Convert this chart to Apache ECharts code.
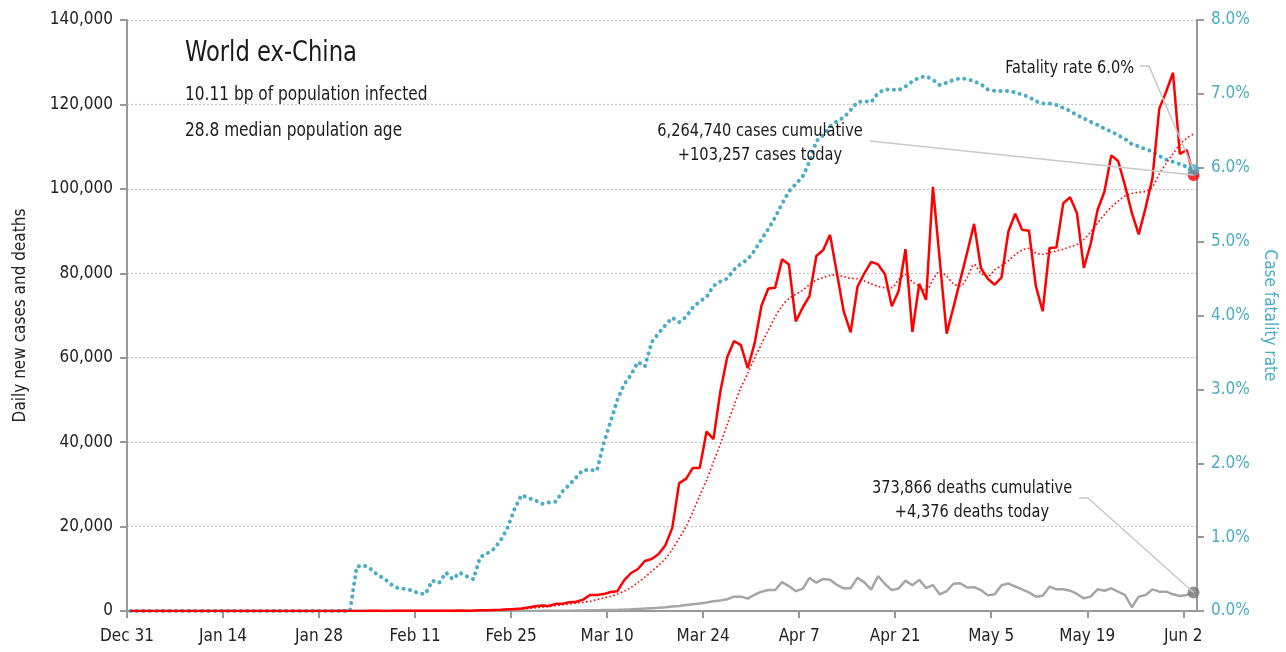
<!DOCTYPE html>
<html>
<head>
<meta charset="utf-8">
<script src="https://cdn.jsdelivr.net/npm/echarts@6/dist/echarts.min.js"></script>
<style>
html, body { margin: 0; padding: 0; background: #fff; }
#chart { width: 1286px; height: 652px; }
</style>
</head>
<body>
<div id="chart"></div>
<script>
// day index 0 = Dec 31, one value per day up to Jun 3
var tickLabels = ['Dec 31', 'Jan 14', 'Jan 28', 'Feb 11', 'Feb 25', 'Mar 10', 'Mar 24',
  'Apr 7', 'Apr 21', 'May 5', 'May 19', 'Jun 2'];

var dailyCases = [
  0, 0, 0, 0, 0, 0, 0, 0, 0, 0,
  0, 0, 0, 1, 0, 0, 1, 0, 0, 1,
  2, 3, 5, 4, 7, 10, 12, 15, 20, 18,
  25, 30, 20, 25, 15, 30, 40, 25, 35, 50,
  30, 45, 40, 60, 50, 45, 80, 70, 90, 70,
  100, 150, 200, 250, 300, 400, 450, 600, 850, 1100,
  1300, 1200, 1700, 1700, 2100, 2200, 2700, 3800, 3800, 4000,
  4500, 4700, 7300, 9000, 9950, 11850, 12300, 13500, 15600, 19700,
  30300, 31300, 33900, 33900, 42500, 40700, 51950, 60100, 63960, 63000,
  57500, 63400, 72300, 76400, 76600, 83300, 82100, 68600, 71850, 74600,
  84100, 85500, 89100, 80000, 70900, 66000, 76800, 80000, 82700, 82100,
  79800, 72200, 75800, 85700, 66100, 77500, 73700, 100500, 83000, 65700,
  72000, 78500, 85000, 91700, 81200, 78700, 77300, 79000, 89900, 94100,
  90300, 90100, 77000, 71000, 86000, 86100, 96600, 98000, 94200, 81300,
  87000, 95000, 99300, 107900, 106600, 100800, 94300, 89200, 95500, 102500,
  119000, 123000, 127500, 108300, 109200, 103257
];

var casesAvg = [
  0, 0, 0, 0, 0, 0, 0, 0, 0, 0,
  0, 0, 0, 0, 0, 0, 1, 1, 1, 1,
  2, 3, 4, 5, 6, 8, 10, 12, 14, 16,
  19, 22, 23, 24, 25, 26, 28, 30, 32, 34,
  36, 40, 42, 46, 50, 53, 56, 60, 65, 70,
  80, 100, 130, 170, 220, 280, 350, 460, 600, 750,
  900, 1050, 1250, 1450, 1650, 1850, 2050, 2300, 2700, 3100,
  3500, 4000, 4700, 5600, 6800, 8000, 9400, 10800, 12400, 14600,
  17200, 20000, 23500, 27300, 31000, 35300, 39500, 44200, 48700, 52900,
  56300, 59900, 63200, 66500, 69700, 72300, 74000, 75000, 76000, 77300,
  78400, 79000, 79500, 79600, 79200, 78800, 78700, 78200, 77500, 76900,
  76600, 76600, 78500, 79700, 78000, 77000, 75800, 78500, 80400, 79300,
  77500, 77000, 79000, 82100, 80000, 79200, 80800, 81800, 83000, 84400,
  85500, 85900, 84800, 84500, 84900, 85300, 85700, 86300, 86800, 88000,
  89800, 91900, 93900, 95700, 97100, 98300, 98900, 99200, 99400, 100500,
  103500, 106000, 108300, 110500, 112000, 113000
];

var dailyDeaths = [
  0, 0, 0, 0, 0, 0, 0, 0, 0, 0,
  0, 0, 0, 0, 0, 0, 0, 0, 0, 0,
  0, 0, 0, 0, 0, 0, 0, 0, 0, 0,
  0, 0, 0, 1, 0, 0, 1, 0, 0, 0,
  0, 0, 0, 1, 0, 1, 1, 0, 1, 2,
  3, 4, 5, 6, 8, 10, 12, 15, 20, 25,
  30, 40, 50, 60, 80, 100, 120, 150, 180, 220,
  260, 300, 350, 420, 500, 580, 680, 780, 900, 1050,
  1200, 1400, 1600, 1800, 2000, 2300, 2500, 2780, 3400, 3400,
  2950, 3850, 4570, 4970, 4970, 6850, 5900, 4700, 5230, 7850,
  6700, 7600, 7400, 6160, 5380, 5380, 7850, 6790, 5050, 8300,
  6400, 4950, 5330, 7200, 6100, 7370, 5450, 6150, 3920, 4700,
  6450, 6550, 5570, 5650, 4950, 3700, 3970, 6080, 6500, 5800,
  5100, 4400, 3400, 3630, 5760, 5130, 5130, 4810, 4030, 3000,
  3400, 5130, 4810, 5370, 4580, 3790, 900, 3400, 3790, 5130,
  4580, 4580, 3950, 3550, 3790, 4376
];

// case fatality rate, percent
var fatalityRate = [
  0, 0, 0, 0, 0, 0, 0, 0, 0, 0,
  0, 0, 0, 0, 0, 0, 0, 0, 0, 0,
  0, 0, 0, 0, 0, 0, 0, 0, 0, 0,
  0, 0, 0, 0.60, 0.62, 0.57, 0.49, 0.44, 0.36, 0.31,
  0.30, 0.28, 0.24, 0.23, 0.41, 0.38, 0.52, 0.43, 0.52, 0.47,
  0.43, 0.73, 0.78, 0.84, 0.96, 1.13, 1.38, 1.57, 1.53, 1.50,
  1.45, 1.47, 1.48, 1.62, 1.71, 1.81, 1.91, 1.91, 1.90, 2.27,
  2.56, 2.86, 3.07, 3.20, 3.37, 3.31, 3.64, 3.76, 3.87, 3.97,
  3.91, 3.98, 4.11, 4.19, 4.25, 4.40, 4.46, 4.50, 4.62, 4.70,
  4.76, 4.88, 5.03, 5.17, 5.33, 5.51, 5.68, 5.78, 5.88, 6.08,
  6.36, 6.44, 6.56, 6.63, 6.68, 6.78, 6.89, 6.90, 6.89, 7.01,
  7.06, 7.06, 7.05, 7.10, 7.17, 7.22, 7.24, 7.19, 7.12, 7.15,
  7.19, 7.21, 7.20, 7.17, 7.13, 7.06, 7.04, 7.04, 7.04, 7.02,
  6.99, 6.96, 6.90, 6.87, 6.87, 6.85, 6.81, 6.77, 6.71, 6.67,
  6.62, 6.58, 6.53, 6.49, 6.44, 6.39, 6.32, 6.29, 6.25, 6.22,
  6.16, 6.11, 6.08, 6.05, 6.01, 5.97
];

var titleText = 'World ex-China';
var subLines = ['10.11 bp of population infected', '28.8 median population age'];
var casesNote = ['6,264,740 cases cumulative', '+103,257 cases today'];
var deathsNote = ['373,866 deaths cumulative', '+4,376 deaths today'];
var rateNote = 'Fatality rate 6.0%';

var FONT = "'Liberation Sans Narrow', 'DejaVu Sans Condensed', 'Roboto', sans-serif";
var RED = '#ff0000', BLUE = '#4bacc6', GREY = '#a6a6a6', AXIS = '#999999';

// points sit in the middle of each day
function toPoints(arr) {
  var out = [];
  for (var i = 0; i < arr.length; i++) out.push([i + 0.5, arr[i]]);
  return out;
}
var last = dailyCases.length - 1;
var lastX = last + 0.5;
var tickValues = tickLabels.map(function (t, i) { return i * 14; });

var chart = echarts.init(document.getElementById('chart'));
var option = {
  animation: false,
  textStyle: { fontFamily: FONT },
  grid: { left: 127, right: 89, top: 20, bottom: 41 },
  xAxis: {
    type: 'value',
    min: 0,
    max: 156,
    interval: 14,
    axisLine: { lineStyle: { color: AXIS, width: 2 } },
    axisTick: { show: true, length: 7, lineStyle: { color: AXIS, width: 2 }, customValues: tickValues },
    axisLabel: {
      customValues: tickValues,
      margin: 17,
      color: '#222',
      fontSize: 17,
      fontFamily: FONT,
      formatter: function (v) { return tickLabels[Math.round(v / 14)] || ''; }
    },
    splitLine: { show: false }
  },
  yAxis: [{
    type: 'value',
    min: 0,
    max: 140000,
    interval: 20000,
    name: 'Daily new cases and deaths',
    nameLocation: 'middle',
    nameRotate: 90,
    nameGap: 98,
    nameTextStyle: { color: '#222', fontSize: 17, fontFamily: FONT },
    axisLine: { show: true, lineStyle: { color: AXIS, width: 2 } },
    axisTick: { show: true, length: 7, lineStyle: { color: AXIS, width: 2 } },
    axisLabel: {
      margin: 14, color: '#222', fontSize: 17, fontFamily: FONT,
      formatter: function (v) { return v.toLocaleString('en-US'); }
    },
    splitLine: { show: true, lineStyle: { color: '#c4c4c4', width: 1.2, type: [2, 2] } }
  }, {
    type: 'value',
    min: 0,
    max: 8,
    interval: 1,
    position: 'right',
    name: 'Case fatality rate',
    nameLocation: 'middle',
    nameRotate: -90,
    nameGap: 64,
    nameTextStyle: { color: BLUE, fontSize: 17, fontFamily: FONT },
    axisLine: { show: true, lineStyle: { color: AXIS, width: 2 } },
    axisTick: { show: true, length: 7, lineStyle: { color: AXIS, width: 2 } },
    axisLabel: {
      margin: 14, color: BLUE, fontSize: 17, fontFamily: FONT,
      formatter: function (v) { return v.toFixed(1) + '%'; }
    },
    splitLine: { show: false }
  }],
  series: [{
    name: 'deaths',
    type: 'line',
    data: toPoints(dailyDeaths),
    showSymbol: false,
    lineStyle: { color: GREY, width: 2.5 },
    z: 2
  }, {
    name: 'fatality rate',
    type: 'line',
    yAxisIndex: 1,
    data: toPoints(fatalityRate),
    showSymbol: false,
    lineStyle: { color: BLUE, width: 4, type: [0.1, 6.4], cap: 'round' },
    z: 3
  }, {
    name: 'cases average',
    type: 'line',
    data: toPoints(casesAvg),
    showSymbol: false,
    smooth: 0.3,
    lineStyle: { color: RED, width: 1.6, type: [1.6, 2.4] },
    z: 4
  }, {
    name: 'cases',
    type: 'line',
    data: toPoints(dailyCases),
    showSymbol: false,
    lineStyle: { color: RED, width: 2.5 },
    z: 5
  }, {
    name: 'end cases',
    type: 'scatter',
    data: [[lastX, dailyCases[last]]],
    symbolSize: 12,
    itemStyle: { color: RED },
    z: 6
  }, {
    name: 'end deaths',
    type: 'scatter',
    data: [[lastX, dailyDeaths[last]]],
    symbolSize: 12,
    itemStyle: { color: '#777777' },
    z: 6
  }, {
    name: 'end rate',
    type: 'scatter',
    yAxisIndex: 1,
    data: [[lastX, fatalityRate[last]]],
    symbolSize: 12,
    itemStyle: { color: BLUE },
    z: 7
  }]
};
chart.setOption(option);

// annotations and leader lines to the last points
var pCases = chart.convertToPixel({ seriesIndex: 3 }, [lastX, dailyCases[last]]);
var pDeaths = chart.convertToPixel({ seriesIndex: 0 }, [lastX, dailyDeaths[last]]);
var pRate = chart.convertToPixel({ seriesIndex: 1 }, [lastX, fatalityRate[last]]);
var leader = { stroke: '#c8c8c8', lineWidth: 1.5, fill: null };

// the reference face is narrower, so squeeze the text horizontally
function txt(x, y, s, size, align) {
  return {
    type: 'text', x: x, y: y, z: 20, scaleX: 0.9,
    style: { text: s, fill: '#1a1a1a', font: size + 'px ' + FONT, textAlign: align || 'left', textVerticalAlign: 'middle' }
  };
}

chart.setOption({
  graphic: [
    txt(185, 54, titleText, 28),
    txt(185, 95, subLines[0], 19),
    txt(185, 131, subLines[1], 19),
    txt(760, 131, casesNote[0], 18, 'center'),
    txt(760, 155, casesNote[1], 18, 'center'),
    txt(972, 488, deathsNote[0], 18, 'center'),
    txt(972, 512, deathsNote[1], 18, 'center'),
    txt(1134, 68, rateNote, 18, 'right'),
    { type: 'polyline', z: 15, shape: { points: [[870, 141], pCases] }, style: leader },
    { type: 'polyline', z: 15, shape: { points: [[1079, 498], [1088, 498], pDeaths] }, style: leader },
    { type: 'polyline', z: 15, shape: { points: [[1140, 66], [1149, 66], pRate] }, style: leader }
  ]
});
</script>
</body>
</html>
